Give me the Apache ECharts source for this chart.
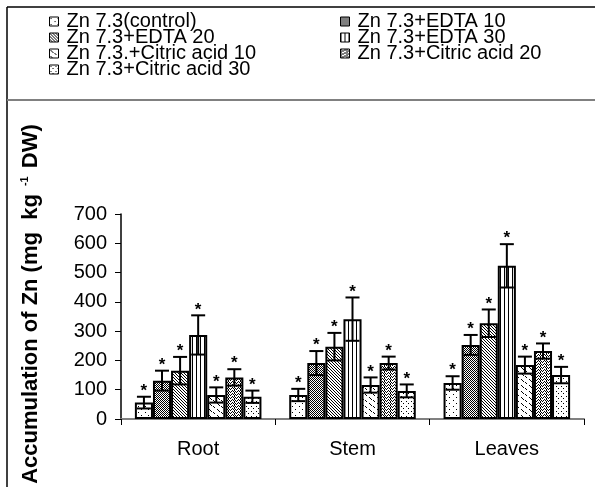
<!DOCTYPE html>
<html>
<head>
<meta charset="utf-8">
<script src="https://cdn.jsdelivr.net/npm/echarts@6/dist/echarts.min.js"></script>
<style>
  html, body { margin: 0; padding: 0; background: #fff; }
  #main { width: 595px; height: 487px; }
</style>
</head>
<body>
<div id="main"></div>
<script>
// data
var parts = ['Root', 'Stem', 'Leaves'];
var names = ['Zn 7.3(control)', 'Zn 7.3+EDTA 10', 'Zn 7.3+EDTA 20', 'Zn 7.3+EDTA 30',
             'Zn 7.3.+Citric acid 10', 'Zn 7.3+Citric acid 20', 'Zn 7.3+Citric acid 30'];
var control = [56, 82, 123];
var edta10 = [131, 191, 253];
var edta20 = [165, 247, 327];
var edta30 = [287, 341, 523];
var citric10 = [82, 116, 184];
var citric20 = [142, 191, 232];
var citric30 = [76, 96, 150];
var errControl = [20, 21, 23];
var errEdta10 = [34, 41, 34];
var errEdta20 = [47, 47, 47];
var errEdta30 = [67, 74, 74];
var errCitric10 = [26, 26, 29];
var errCitric20 = [28, 22, 26];
var errCitric30 = [21, 22, 28];
var yTicks = [0, 100, 200, 300, 400, 500, 600, 700];

var values = [control, edta10, edta20, edta30, citric10, citric20, citric30];
var errors = [errControl, errEdta10, errEdta20, errEdta30, errCitric10, errCitric20, errCitric30];

// little hatch tiles, drawn pixel by pixel
function tile(w, h, pts) {
  var c = document.createElement('canvas');
  c.width = w; c.height = h;
  var ctx = c.getContext('2d');
  ctx.fillStyle = '#fff';
  ctx.fillRect(0, 0, w, h);
  ctx.fillStyle = '#000';
  pts.forEach(function (p) { ctx.fillRect(p[0], p[1], 1, 1); });
  return { image: c, repeat: 'repeat' };
}
var patterns = [
  tile(7, 6, [[1, 1], [5, 4]]),                                   // dots sparse
  tile(2, 2, [[0, 0], [1, 1]]),                                   // dense checker
  tile(3, 3, [[0, 0], [1, 1], [2, 2]]),                           // diagonal lines
  tile(4, 1, [[0, 0]]),                                           // vertical lines
  tile(8, 6, [[1, 1], [2, 2], [3, 3], [5, 4], [6, 5]]),           // short dashes
  tile(6, 3, [[0, 0], [1, 1], [2, 2], [3, 1], [4, 0], [5, 1], [0, 2]]), // zigzag
  tile(5, 5, [[1, 1], [3, 3]])                                    // dots
];

var gapRatio = 0.18;
var barSeries = names.map(function (n, i) {
  return {
    name: n,
    type: 'bar',
    data: values[i],
    barGap: '0%',
    barCategoryGap: (gapRatio * 100) + '%',
    itemStyle: { color: patterns[i], borderColor: '#000', borderWidth: 2 },
    z: 2
  };
});

var errData = [];
values.forEach(function (arr, s) {
  arr.forEach(function (v, c) { errData.push([c, v, errors[s][c], s]); });
});

var errSeries = {
  type: 'custom',
  data: errData,
  z: 5,
  renderItem: function (params, api) {
    var c = api.value(0), v = api.value(1), e = api.value(2), s = api.value(3);
    var center = api.coord([c, 0])[0];
    var band = api.size([1, 0])[0];
    var bw = band * (1 - gapRatio) / 7;
    var x = center - band * (1 - gapRatio) / 2 + bw * (s + 0.5);
    var top = api.coord([c, v + e])[1];
    var bot = api.coord([c, v - e])[1];
    var hw = 7;
    var st = { stroke: '#000', lineWidth: 2 };
    return {
      type: 'group',
      children: [
        { type: 'line', shape: { x1: x, y1: top, x2: x, y2: bot }, style: st },
        { type: 'line', shape: { x1: x - hw, y1: top, x2: x + hw, y2: top }, style: st },
        { type: 'line', shape: { x1: x - hw, y1: bot, x2: x + hw, y2: bot }, style: st },
        { type: 'text', x: x, y: top - 14,
          style: { text: '*', fontSize: 17, fontWeight: 'bold', fontFamily: 'Liberation Sans',
                   fill: '#000', align: 'center', verticalAlign: 'top' } }
      ]
    };
  }
};

// legend: two columns, one entry per legend so the rows sit exactly
var legendCols = [49, 340];
var legendRows = [21.5, 37.5, 53.5, 69.5];
var legends = names.map(function (n, i) {
  return {
    orient: 'horizontal',
    left: legendCols[i % 2],
    top: legendRows[Math.floor(i / 2)] - 10,
    padding: 0,
    itemWidth: 9, itemHeight: 9, icon: 'rect',
    itemStyle: { borderColor: '#000', borderWidth: 1 },
    textStyle: { fontSize: 20, fontFamily: 'Liberation Sans', color: '#000', lineHeight: 20, padding: [0, 0, 0, 3] },
    selectedMode: false,
    data: [n]
  };
});

var myChart = echarts.init(document.getElementById('main'));
var option = {
  animation: false,
  backgroundColor: '#fff',
  legend: legends,
  grid: { left: 121, right: 11, top: 214, bottom: 68 },
  xAxis: {
    type: 'category',
    data: parts,
    axisLine: { lineStyle: { color: '#808080', width: 2 } },
    axisTick: { show: true, length: 6, lineStyle: { color: '#000', width: 1 } },
    axisLabel: { fontSize: 20, fontFamily: 'Liberation Sans', color: '#000', margin: 20 }
  },
  yAxis: {
    type: 'value',
    min: yTicks[0],
    max: yTicks[yTicks.length - 1],
    interval: 100,
    splitLine: { show: false },
    axisLine: { show: true, lineStyle: { color: '#000', width: 1.5 } },
    axisTick: { show: true, length: 6, lineStyle: { color: '#000' } },
    axisLabel: { fontSize: 20, fontFamily: 'Liberation Sans', color: '#000', margin: 14 }
  },
  graphic: [
    { type: 'line', shape: { x1: 7, y1: 7, x2: 595, y2: 7 }, style: { stroke: '#000', lineWidth: 1.5 } },
    { type: 'line', shape: { x1: 7, y1: 7, x2: 7, y2: 487 }, style: { stroke: '#000', lineWidth: 1.5 } },
    { type: 'line', shape: { x1: 7, y1: 100, x2: 595, y2: 100 }, style: { stroke: '#808080', lineWidth: 2 } },
    {
      type: 'text', x: 31, y: 304, rotation: Math.PI / 2,
      style: {
        text: '{t|Accumulation of Zn (mg  kg }{s|-1}{t| DW)}',
        align: 'center', verticalAlign: 'middle',
        rich: {
          t: { fontSize: 22, fontWeight: 'bold', fontFamily: 'Liberation Sans', fill: '#000', lineHeight: 24 },
          s: { fontSize: 11, fontWeight: 'bold', fontFamily: 'Liberation Sans', fill: '#000', lineHeight: 24, verticalAlign: 'top', padding: [0, 2, 10, 2] }
        }
      }
    }
  ],
  series: barSeries.concat([errSeries])
};
myChart.setOption(option);
</script>
</body>
</html>
